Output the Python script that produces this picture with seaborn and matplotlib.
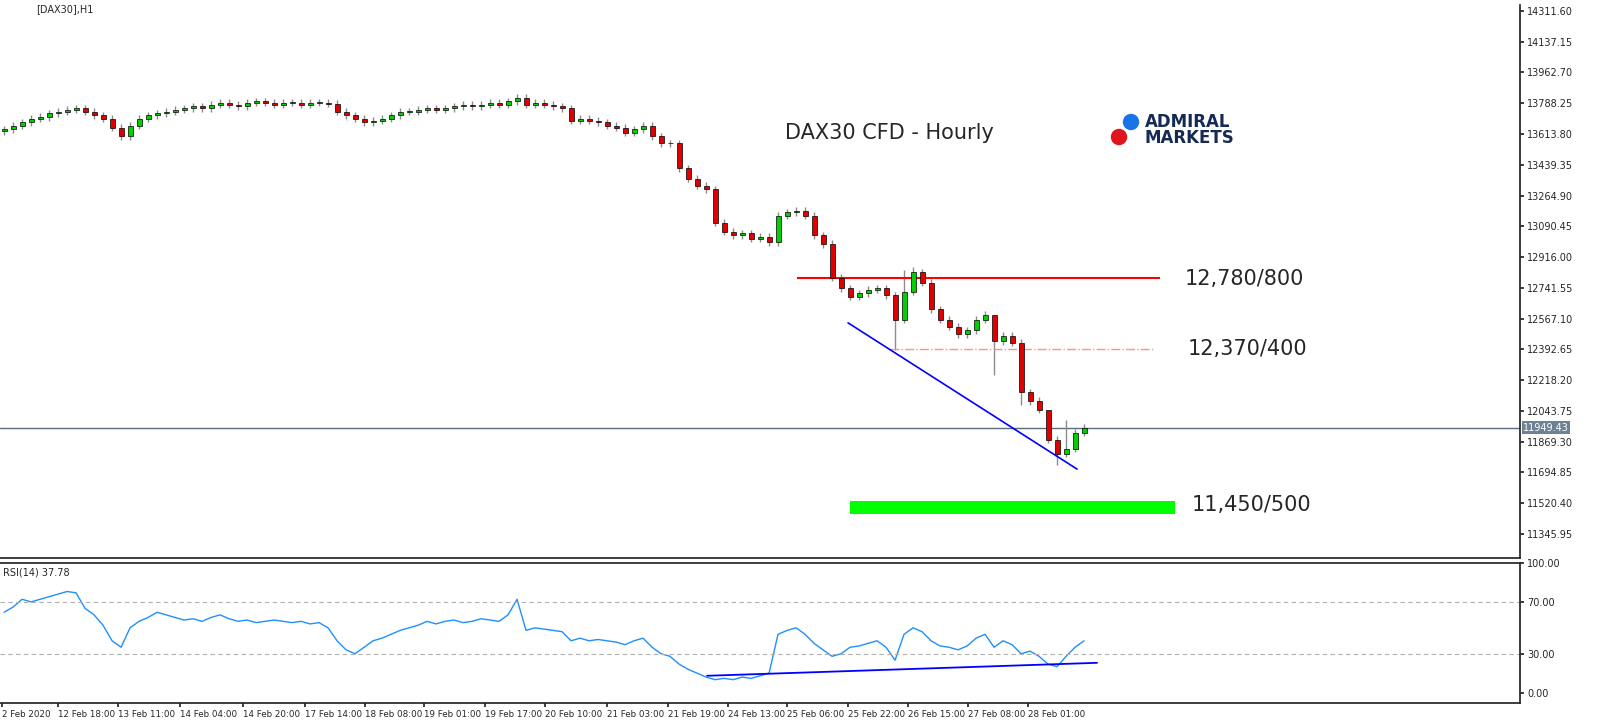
import numpy as np
import pandas as pd
import matplotlib
matplotlib.use("Agg")
import matplotlib.pyplot as plt
import seaborn as sns
from matplotlib.patches import Circle

sns.set_theme(style="white")
plt.rcParams['font.family'] = ['DejaVu Sans']

# ==== Data ====
closes = [13640, 13660, 13680, 13700, 13710, 13730, 13740, 13750, 13760,
          13740, 13720, 13700, 13650, 13600,
          13660, 13700, 13720, 13730, 13740, 13750, 13760, 13770, 13760,
          13780, 13790, 13780, 13770, 13790, 13800, 13790, 13780, 13790, 13790, 13780, 13790, 13790, 13785,
          13740, 13720, 13700, 13680, 13690, 13700, 13720, 13740,
          13740, 13750, 13760, 13750, 13760, 13770, 13780, 13770, 13780, 13790, 13780, 13800,
          13820,
          13780, 13790, 13780, 13770, 13760,
          13690,
          13700, 13690, 13680, 13660, 13650, 13620, 13640, 13660, 13600,
          13560, 13560, 13420, 13360, 13320, 13300, 13110,
          13060, 13040, 13050, 13020, 13030, 13000,
          13150, 13170, 13180, 13150, 13040, 12990,
          12800, 12740, 12690, 12710, 12730, 12740, 12700, 12560,
          12720, 12830, 12770, 12620, 12560, 12520, 12480, 12500, 12560, 12590,
          12440, 12470, 12430, 12150, 12100, 12050, 11880, 11800, 11830, 11920, 11949]
first_open = 13630
wick = 20
spike_high = {101: 12860, 100: 12840, 110: 12520, 116: 11990, 118: 11990}
spike_low = {99: 12390, 110: 12250, 117: 11740, 113: 12080}

rsi = [62, 66, 72, 70, 72, 74, 76, 78, 77,
       65, 60, 52, 40, 35,
       50, 55, 58, 62, 60, 58, 56, 57, 55,
       58, 60, 57, 55, 56, 54, 55, 56, 55, 54, 55, 53, 54, 50,
       40, 33, 30, 35, 40, 42, 45, 48,
       50, 52, 55, 53, 55, 56, 54, 55, 57, 56, 55, 60,
       72,
       48, 50, 49, 48, 47,
       40,
       42, 40, 41, 40, 39, 37, 40, 42, 35,
       30, 28, 22, 18, 15, 12, 10,
       11, 10, 12, 11, 13, 15,
       45, 48, 50, 45, 38, 33,
       28, 30, 35, 36, 38, 40, 35, 25,
       45, 50, 47, 40, 36, 35, 33, 36, 42, 45,
       35, 40, 37, 30, 32, 28, 22, 20, 28, 35, 40]

price_ticks = [14311.60, 14137.15, 13962.70, 13788.25, 13613.80, 13439.35, 13264.90,
               13090.45, 12916.00, 12741.55, 12567.10, 12392.65, 12218.20, 12043.75,
               11869.30, 11694.85, 11520.40, 11345.95]
date_labels = ["2 Feb 2020", "12 Feb 18:00", "13 Feb 11:00", "14 Feb 04:00", "14 Feb 20:00",
               "17 Feb 14:00", "18 Feb 08:00", "19 Feb 01:00", "19 Feb 17:00", "20 Feb 10:00",
               "21 Feb 03:00", "21 Feb 19:00", "24 Feb 13:00", "25 Feb 06:00", "25 Feb 22:00",
               "26 Feb 15:00", "27 Feb 08:00", "28 Feb 01:00"]
date_px = [2, 58, 118, 180, 243, 305, 365, 424, 485, 545, 607, 668, 728, 787, 848, 908, 968, 1028]
last_price = 11949.43

df = pd.DataFrame({"close": closes})
df["open"] = [first_open] + closes[:-1]
df["high"] = df[["open", "close"]].max(axis=1) + wick
df["low"] = df[["open", "close"]].min(axis=1) - wick
for k, v in spike_high.items():
    df.loc[k, "high"] = v
for k, v in spike_low.items():
    df.loc[k, "low"] = v
df["x"] = np.arange(len(df))

px = lambda p: (p - 4) / 9.0  # pixel column -> bar index

fig = plt.figure(figsize=(16, 7.21), dpi=100)
ax = fig.add_axes([0.0, 1 - 558 / 721, 1520 / 1600, 553 / 721])
ax2 = fig.add_axes([0.0, 1 - 703 / 721, 1520 / 1600, 140 / 721], sharex=ax)

# ==== Candles ====
for _, r in df.iterrows():
    up = r["close"] >= r["open"]
    ax.vlines(r["x"], r["low"], r["high"], color="#8c8c8c", lw=1, zorder=2)
    ax.bar(r["x"], max(abs(r["close"] - r["open"]), 4), bottom=min(r["open"], r["close"]),
           width=0.55, color="#00d000" if up else "#e00000", edgecolor="black", lw=0.5, zorder=3)

ax.set_xlim(-0.45, 1520 / 9 - 0.45)
ax.set_ylim(11210, 14345)
ax.yaxis.tick_right()
ax.set_yticks(price_ticks)
ax.set_yticklabels([f"{v:.2f}" for v in price_ticks], fontsize=7)
ax.tick_params(axis="y", length=3, pad=2, direction="out", right=True)
ax.tick_params(axis="x", bottom=False, labelbottom=False)
for s in ["top", "left"]:
    ax.spines[s].set_visible(False)

# levels
ax.axhline(last_price, color="#5a6e82", lw=1, zorder=1)
ax.text(1.002, last_price, f"{last_price:.2f}", transform=ax.get_yaxis_transform(), fontsize=7,
        color="white", va="center", bbox=dict(boxstyle="square,pad=0.15", fc="#6e8296", ec="none"))
ax.hlines(12800, px(797), px(1160), color="#ff0000", lw=1.5)
ax.hlines(12395, px(890), px(1155), color="#ff9090", lw=1, linestyles="dashdot")
ax.plot([px(848), px(1077)], [12543, 11714], color="#0000ff", lw=1.2)
ax.fill_between([px(850), px(1175)], 11462, 11535, color="#00ff00", lw=0)
ax.text(px(1185), 12790, "12,780/800", fontsize=15, va="center")
ax.text(px(1188), 12395, "12,370/400", fontsize=15, va="center")
ax.text(px(1192), 11510, "11,450/500", fontsize=15, va="center")
ax.text(px(785), 13620, "DAX30 CFD - Hourly", fontsize=15, va="center")

# logo (circles in inches so they stay round)
fig.patches.append(Circle((11.31, 7.21 - 1.22), 0.075, transform=fig.dpi_scale_trans,
                          color="#1a73e8"))
fig.patches.append(Circle((11.19, 7.21 - 1.37), 0.075, transform=fig.dpi_scale_trans,
                          color="#e0141e"))
fig.text(1145 / 1600, 1 - 130 / 721, "ADMIRAL\nMARKETS", fontsize=12, fontweight="bold",
         color="#152a54", va="center", linespacing=0.85)
fig.text(36 / 1600, 1 - 9 / 721, "[DAX30],H1", fontsize=7, va="center")

# ==== RSI panel ====
ax2.plot(df["x"], rsi, color="#1e90ff", lw=1)
ax2.plot([px(707), px(1097)], [13, 23], color="#0000ff", lw=1.3)
for lvl in [70, 30]:
    ax2.axhline(lvl, color="#b0b0b0", lw=0.8, ls=(0, (4, 3)))
ax2.set_ylim(-8, 99)
ax2.yaxis.tick_right()
ax2.set_yticks([100, 70, 30, 0])
ax2.set_yticklabels(["100.00", "70.00", "30.00", "0.00"], fontsize=7)
ax2.tick_params(axis="y", length=3, pad=2, right=True)
ax2.set_xticks([px(p) for p in date_px])
ax2.set_xticklabels(date_labels, fontsize=6.3, ha="left")
ax2.tick_params(axis="x", length=3, pad=2, bottom=True)
for s in ["left"]:
    ax2.spines[s].set_visible(False)
ax2.text(0.002, 0.93, "RSI(14) 37.78", transform=ax2.transAxes, fontsize=7, va="center")

fig.savefig("out.png", dpi=100)
